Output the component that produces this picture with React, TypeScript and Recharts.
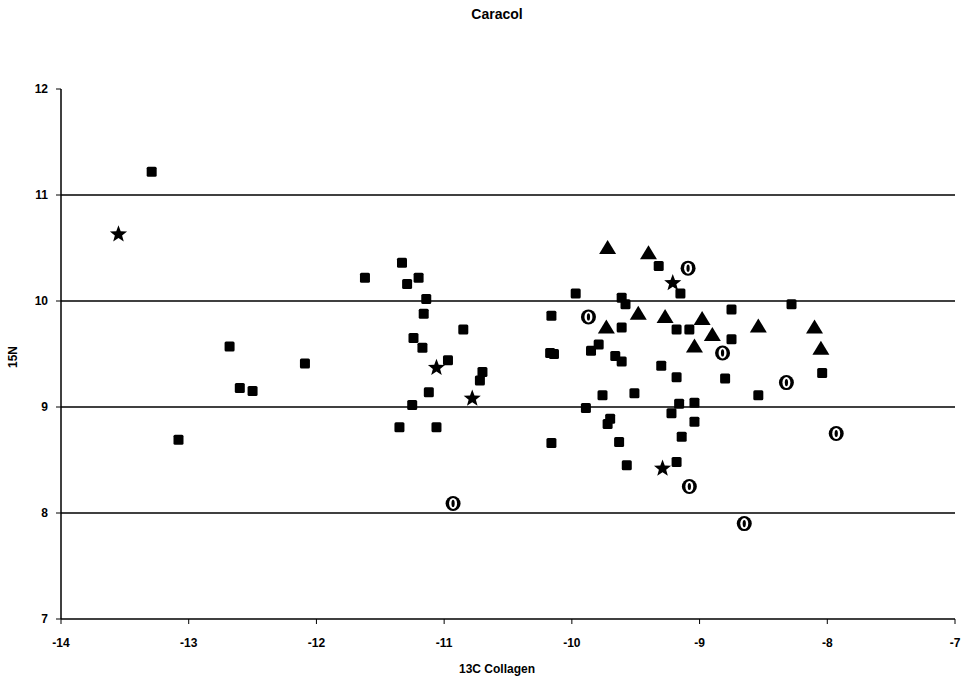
import { ScatterChart, Scatter, XAxis, YAxis, ReferenceLine } from 'recharts'

// d13C collagen (x) vs d15N (y), one list per marker group
const squares = [
  { x: -13.29, y: 11.22 }, { x: -13.08, y: 8.69 }, { x: -12.68, y: 9.57 }, { x: -12.6, y: 9.18 },
  { x: -12.5, y: 9.15 }, { x: -12.09, y: 9.41 }, { x: -11.62, y: 10.22 }, { x: -11.33, y: 10.36 },
  { x: -11.29, y: 10.16 }, { x: -11.2, y: 10.22 }, { x: -11.14, y: 10.02 }, { x: -11.16, y: 9.88 },
  { x: -11.24, y: 9.65 }, { x: -11.17, y: 9.56 }, { x: -10.97, y: 9.44 }, { x: -10.85, y: 9.73 },
  { x: -10.7, y: 9.33 }, { x: -10.72, y: 9.25 }, { x: -11.12, y: 9.14 }, { x: -11.25, y: 9.02 },
  { x: -11.35, y: 8.81 }, { x: -11.06, y: 8.81 },
  { x: -10.16, y: 9.86 }, { x: -9.97, y: 10.07 }, { x: -9.61, y: 10.03 }, { x: -9.58, y: 9.97 },
  { x: -9.32, y: 10.33 }, { x: -9.15, y: 10.07 }, { x: -9.61, y: 9.75 }, { x: -9.18, y: 9.73 },
  { x: -9.08, y: 9.73 }, { x: -8.75, y: 9.92 }, { x: -8.75, y: 9.64 }, { x: -8.28, y: 9.97 },
  { x: -9.79, y: 9.59 }, { x: -9.85, y: 9.53 }, { x: -10.17, y: 9.51 }, { x: -10.14, y: 9.5 },
  { x: -9.66, y: 9.48 }, { x: -9.61, y: 9.43 }, { x: -9.3, y: 9.39 }, { x: -9.18, y: 9.28 },
  { x: -8.8, y: 9.27 }, { x: -8.04, y: 9.32 }, { x: -9.76, y: 9.11 }, { x: -9.51, y: 9.13 },
  { x: -8.54, y: 9.11 }, { x: -9.89, y: 8.99 }, { x: -9.16, y: 9.03 }, { x: -9.04, y: 9.04 },
  { x: -9.22, y: 8.94 }, { x: -9.04, y: 8.86 }, { x: -9.7, y: 8.89 }, { x: -9.72, y: 8.84 },
  { x: -9.63, y: 8.67 }, { x: -9.14, y: 8.72 }, { x: -10.16, y: 8.66 }, { x: -9.57, y: 8.45 },
  { x: -9.18, y: 8.48 },
]

const triangles = [
  { x: -9.72, y: 10.5 }, { x: -9.4, y: 10.45 }, { x: -9.48, y: 9.88 }, { x: -9.73, y: 9.75 },
  { x: -9.27, y: 9.85 }, { x: -8.98, y: 9.83 }, { x: -8.9, y: 9.68 }, { x: -9.04, y: 9.57 },
  { x: -8.54, y: 9.76 }, { x: -8.1, y: 9.75 }, { x: -8.05, y: 9.55 },
]

const circles = [
  { x: -9.09, y: 10.31 }, { x: -9.87, y: 9.85 }, { x: -8.82, y: 9.51 }, { x: -8.32, y: 9.23 },
  { x: -7.93, y: 8.75 }, { x: -9.08, y: 8.25 }, { x: -8.65, y: 7.9 }, { x: -10.93, y: 8.09 },
]

const stars = [
  { x: -13.55, y: 10.63 }, { x: -11.06, y: 9.37 }, { x: -10.78, y: 9.08 }, { x: -9.21, y: 10.17 },
  { x: -9.29, y: 8.42 },
]

const xTicks = [-14, -13, -12, -11, -10, -9, -8, -7]
const yTicks = [7, 8, 9, 10, 11, 12]
const gridLines = [8, 9, 10, 11]

const font = '"Liberation Sans", Arial, sans-serif'
const tickStyle = { fontSize: 12, fontWeight: 700, fill: '#000', fontFamily: font }

const Square = (p: any) => (
  <rect x={p.cx - 5} y={p.cy - 5} width={10} height={10} rx={1.5} fill="#000" />
)

const Triangle = (p: any) => (
  <polygon points={`${p.cx},${p.cy - 8} ${p.cx + 8.5},${p.cy + 6} ${p.cx - 8.5},${p.cy + 6}`} fill="#000" />
)

const Star = (p: any) => {
  const pts: string[] = []
  for (let i = 0; i < 10; i++) {
    const r = i % 2 === 0 ? 9 : 3.8
    const a = -Math.PI / 2 + (i * Math.PI) / 5
    pts.push(`${p.cx + r * Math.cos(a)},${p.cy + r * Math.sin(a)}`)
  }
  return <polygon points={pts.join(' ')} fill="#000" />
}

const Zero = (p: any) => (
  <g>
    <circle cx={p.cx} cy={p.cy} r={7.5} fill="#000" />
    <ellipse cx={p.cx} cy={p.cy} rx={4} ry={5.5} fill="#fff" />
    <ellipse cx={p.cx} cy={p.cy} rx={1.6} ry={3.6} fill="#000" />
  </g>
)

export default function App() {
  return (
    <div style={{ position: 'absolute', left: 0, top: 0, width: 964, height: 684, background: '#fff' }}>
      <ScatterChart width={964} height={684} margin={{ top: 89, right: 9, bottom: 35, left: 20 }}>
        <text x={497} y={19} textAnchor="middle" style={{ fontSize: 14, fontWeight: 700, fontFamily: font }}>
          Caracol
        </text>
        <text x={497} y={673} textAnchor="middle" style={{ fontSize: 12, fontWeight: 700, fontFamily: font }}>
          13C Collagen
        </text>
        <text x={17} y={357} textAnchor="middle" transform="rotate(-90 17 357)" style={{ fontSize: 12, fontWeight: 700, fontFamily: font }}>
          15N
        </text>
        <XAxis
          type="number"
          dataKey="x"
          domain={[-14, -7]}
          ticks={xTicks}
          tick={tickStyle}
          tickSize={5}
          tickMargin={14}
          height={30}
          axisLine={{ stroke: '#000', strokeWidth: 1.5 }}
          tickLine={{ stroke: '#000' }}
          allowDataOverflow
        />
        <YAxis
          type="number"
          dataKey="y"
          domain={[7, 12]}
          ticks={yTicks}
          tick={tickStyle}
          tickSize={5}
          tickMargin={8}
          width={41}
          axisLine={{ stroke: '#000', strokeWidth: 1.5 }}
          tickLine={{ stroke: '#000' }}
          allowDataOverflow
        />
        {gridLines.map((v) => (
          <ReferenceLine key={v} y={v} stroke="#000" strokeWidth={1.5} />
        ))}
        <Scatter data={squares} shape={Square} isAnimationActive={false} />
        <Scatter data={triangles} shape={Triangle} isAnimationActive={false} />
        <Scatter data={circles} shape={Zero} isAnimationActive={false} />
        <Scatter data={stars} shape={Star} isAnimationActive={false} />
      </ScatterChart>
    </div>
  )
}
